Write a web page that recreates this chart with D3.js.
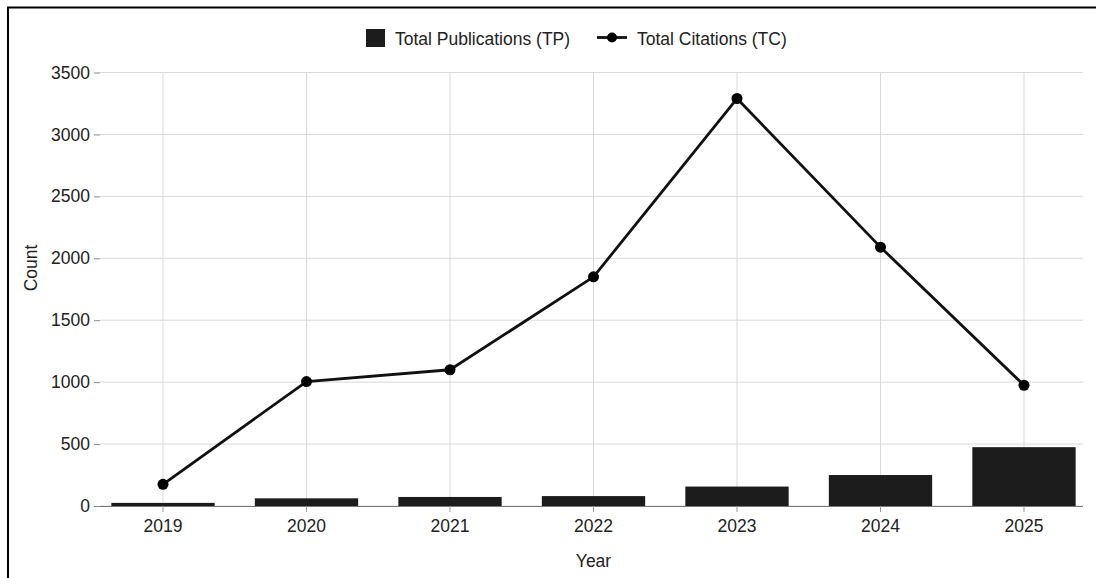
<!DOCTYPE html>
<html>
<head>
<meta charset="utf-8">
<script src="https://cdn.jsdelivr.net/npm/d3@7"></script>
<style>
  html, body { margin: 0; padding: 0; background: #fff; }
  svg { display: block; font-family: "Liberation Sans", Arial, Helvetica, sans-serif; }
</style>
</head>
<body>
<svg id="chart" width="1096" height="578"></svg>
<script>
// Publications and citations per year
const years = ["2019", "2020", "2021", "2022", "2023", "2024", "2025"];
const totalPublications = [25, 62, 73, 80, 157, 250, 475];
const totalCitations = [175, 1005, 1100, 1850, 3290, 2090, 975];
const yTicks = [0, 500, 1000, 1500, 2000, 2500, 3000, 3500];

const svg = d3.select("#chart");
const W = 1096, H = 578;
const plotLeft = 100, plotRight = 1083, plotTop = 72.5, plotBottom = 506;

// outer frame
svg.append("rect")
  .attr("x", 8).attr("y", 7.5)
  .attr("width", W).attr("height", H)
  .attr("fill", "none").attr("stroke", "#000").attr("stroke-width", 2);

const x = d3.scaleBand().domain(years).range([97, 1090])
  .paddingInner(0.28).paddingOuter(0.1);
const y = d3.scaleLinear().domain([0, 3500]).range([plotBottom, plotTop]);
const cx = d => x(d) + x.bandwidth() / 2;

// horizontal grid
svg.append("g").selectAll("line").data(yTicks).join("line")
  .attr("x1", plotLeft).attr("x2", plotRight)
  .attr("y1", d => y(d)).attr("y2", d => y(d))
  .attr("stroke", "#d9d9d9").attr("stroke-width", 1);

// vertical grid
svg.append("g").selectAll("line").data(years).join("line")
  .attr("x1", cx).attr("x2", cx)
  .attr("y1", plotTop).attr("y2", plotBottom)
  .attr("stroke", "#d9d9d9").attr("stroke-width", 1);

// bars
svg.append("g").selectAll("rect").data(years).join("rect")
  .attr("x", d => x(d))
  .attr("width", x.bandwidth())
  .attr("y", (d, i) => y(totalPublications[i]))
  .attr("height", (d, i) => y(0) - y(totalPublications[i]))
  .attr("fill", "#1c1c1c");

// y axis
const yAxis = svg.append("g")
  .attr("transform", `translate(${plotLeft},0)`)
  .call(d3.axisLeft(y).tickValues(yTicks).tickFormat(d3.format("d")).tickSize(6).tickPadding(4));
yAxis.select(".domain").remove();
yAxis.selectAll(".tick line").attr("stroke", "#888");
yAxis.selectAll(".tick text").attr("font-size", 17.5).attr("fill", "#222")
  .attr("font-family", "'Liberation Sans', Arial, sans-serif");

// x axis
const xAxis = svg.append("g")
  .attr("transform", `translate(0,${plotBottom})`)
  .call(d3.axisBottom(x).tickSize(6).tickPadding(8).tickSizeOuter(0));
xAxis.select(".domain").attr("d", `M${plotLeft},0.5H${plotRight}`).attr("stroke", "#777");
xAxis.selectAll(".tick line").attr("stroke", "#999");
xAxis.selectAll(".tick text").attr("font-size", 17.5).attr("fill", "#222")
  .attr("font-family", "'Liberation Sans', Arial, sans-serif");

// citations line
const line = d3.line().x((d, i) => cx(years[i])).y(d => y(d));
svg.append("path")
  .datum(totalCitations)
  .attr("d", line)
  .attr("fill", "none").attr("stroke", "#111").attr("stroke-width", 2.8)
  .attr("stroke-linejoin", "round");
svg.append("g").selectAll("circle").data(totalCitations).join("circle")
  .attr("cx", (d, i) => cx(years[i]))
  .attr("cy", d => y(d))
  .attr("r", 5.5)
  .attr("fill", "#000");

// axis titles
svg.append("text")
  .attr("x", (plotLeft + plotRight) / 2 + 2).attr("y", 567)
  .attr("text-anchor", "middle").attr("font-size", 17.5).attr("fill", "#222")
  .text("Year");
svg.append("text")
  .attr("transform", "translate(37,268) rotate(-90)")
  .attr("text-anchor", "middle").attr("font-size", 17.5).attr("fill", "#222")
  .text("Count");

// legend
const lg = svg.append("g");
lg.append("rect").attr("x", 366).attr("y", 29).attr("width", 19).attr("height", 18)
  .attr("fill", "#1c1c1c");
lg.append("text").attr("x", 395).attr("y", 44.5).attr("font-size", 17.5).attr("fill", "#222")
  .text("Total Publications (TP)");
lg.append("line").attr("x1", 597).attr("x2", 627).attr("y1", 37.5).attr("y2", 37.5)
  .attr("stroke", "#111").attr("stroke-width", 2.8);
lg.append("circle").attr("cx", 612).attr("cy", 37.5).attr("r", 5).attr("fill", "#000");
lg.append("text").attr("x", 637).attr("y", 44.5).attr("font-size", 17.5).attr("fill", "#222")
  .text("Total Citations (TC)");
</script>
</body>
</html>
